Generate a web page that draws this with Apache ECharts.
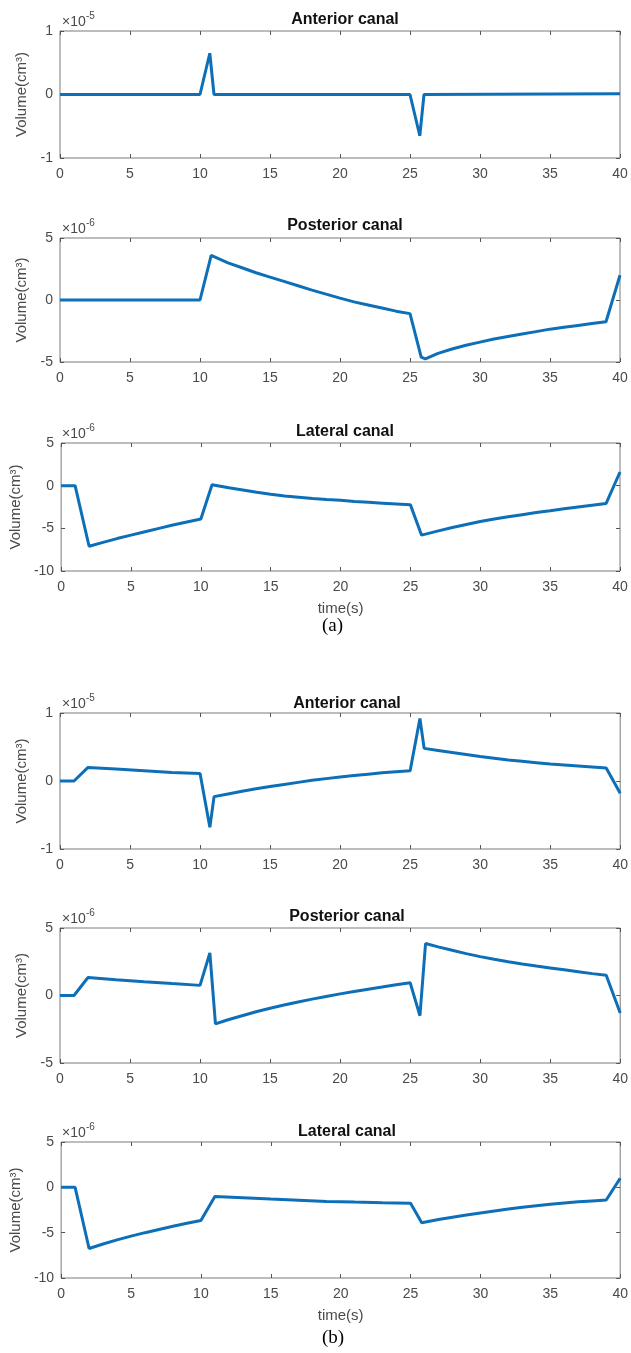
<!DOCTYPE html>
<html><head><meta charset="utf-8">
<script src="https://cdn.jsdelivr.net/npm/echarts@6/dist/echarts.min.js"></script>
<style>html,body{margin:0;padding:0;background:#fff}#c{width:631px;height:1353px}</style>
</head><body><div id="c"></div>
<script>
// ---- data (y values in units of the axis multiplier shown above each panel) ----
const titles = ['Anterior canal','Posterior canal','Lateral canal','Anterior canal','Posterior canal','Lateral canal'];
const exponents = ['-5','-6','-6','-5','-6','-6'];
const yMin = [-1,-5,-10,-1,-5,-10];
const yMax = [1,5,5,1,5,5];
const yStep = [1,5,5,1,5,5];
const xMin = 0, xMax = 40, xStep = 5;
const captions = ['(a)','(b)'];

const anteriorA = [[0,0],[10,0],[10.7,0.65],[11,0],[25,0],[25.7,-0.65],[26,0],[40,0.01]];
const posteriorA = [[0,0],[10,0],[10.8,3.6],[12,3.0],[13,2.6],[14,2.2],[15,1.85],[16,1.5],[17,1.15],[18,0.8],[19,0.47],[20,0.15],[21,-0.15],[22,-0.4],[23,-0.65],[24,-0.9],[25,-1.1],[25.8,-4.6],[26.1,-4.75],[27,-4.3],[28,-3.95],[29,-3.65],[30,-3.4],[31,-3.15],[32,-2.95],[33,-2.75],[34,-2.55],[35,-2.35],[36,-2.2],[37,-2.05],[38,-1.9],[39,-1.75],[40,2.0]];
const lateralA = [[0,0],[1,0],[2,-7.1],[3,-6.65],[4,-6.2],[5,-5.8],[6,-5.4],[7,-5.0],[8,-4.6],[9,-4.25],[10,-3.9],[10.8,0.1],[12,-0.25],[13,-0.5],[14,-0.78],[15,-1.0],[16,-1.2],[17,-1.35],[18,-1.5],[19,-1.62],[20,-1.72],[21,-1.85],[22,-1.95],[23,-2.05],[24,-2.15],[25,-2.25],[25.8,-5.8],[27,-5.3],[28,-4.9],[29,-4.55],[30,-4.2],[31,-3.9],[32,-3.65],[33,-3.4],[34,-3.15],[35,-2.95],[36,-2.7],[37,-2.5],[38,-2.3],[39,-2.1],[40,1.6]];
const anteriorB = [[0,0],[1,0],[2,0.2],[4,0.175],[6,0.15],[8,0.125],[10,0.11],[10.7,-0.68],[11,-0.23],[12,-0.19],[13,-0.15],[14,-0.115],[15,-0.08],[16,-0.05],[17,-0.02],[18,0.01],[19,0.035],[20,0.06],[21,0.08],[22,0.1],[23,0.12],[24,0.135],[25,0.15],[25.7,0.92],[26,0.48],[27,0.45],[28,0.42],[29,0.39],[30,0.36],[31,0.335],[32,0.31],[33,0.29],[34,0.27],[35,0.25],[36,0.235],[37,0.22],[38,0.205],[39,0.19],[40,-0.18]];
const posteriorB = [[0,0],[1,0],[2,1.33],[4,1.17],[6,1.02],[8,0.88],[10,0.75],[10.7,3.15],[11.1,-2.1],[12,-1.8],[13,-1.5],[14,-1.2],[15,-0.95],[16,-0.7],[17,-0.48],[18,-0.27],[19,-0.07],[20,0.12],[21,0.3],[22,0.47],[23,0.63],[24,0.8],[25,0.95],[25.7,-1.5],[26.1,3.85],[27,3.6],[28,3.35],[29,3.1],[30,2.88],[31,2.68],[32,2.5],[33,2.33],[34,2.18],[35,2.04],[36,1.9],[37,1.76],[38,1.62],[39,1.5],[40,-1.3]];
const lateralB = [[0,0],[1,0],[2,-6.75],[3,-6.25],[4,-5.8],[5,-5.38],[6,-5.0],[7,-4.65],[8,-4.3],[9,-3.97],[10,-3.65],[11,-1.0],[13,-1.15],[15,-1.3],[17,-1.42],[19,-1.55],[21,-1.63],[23,-1.7],[25,-1.75],[25.8,-3.9],[27,-3.55],[28,-3.3],[29,-3.05],[30,-2.82],[31,-2.6],[32,-2.4],[33,-2.2],[34,-2.02],[35,-1.87],[36,-1.73],[37,-1.6],[38,-1.5],[39,-1.4],[40,1.0]];
const seriesData = [anteriorA, posteriorA, lateralA, anteriorB, posteriorB, lateralB];

// ---- layout ----
const boxes = [
  {top:31, bottom:158, right:620, titleY:7, nameGap:28},
  {top:238, bottom:362, right:620, titleY:213, nameGap:30},
  {top:443, bottom:571, right:620, titleY:419, nameGap:31},
  {top:713, bottom:849, right:624, titleY:691, nameGap:28},
  {top:928, bottom:1063, right:624, titleY:904, nameGap:30},
  {top:1142, bottom:1278, right:624, titleY:1119, nameGap:31}
];
const LEFT = 60;
const captionY = [617, 1329];
const lineColor = '#0d6fb8';
const txt = '#4a4a4a';
const axisCol = '#7a7a7a';
const font = 'Liberation Sans, Arial, sans-serif';

const grid = [], xAxis = [], yAxis = [], series = [], title = [], graphic = [];
boxes.forEach((b, i) => {
  grid.push({left: LEFT, top: b.top, width: b.right - LEFT, height: b.bottom - b.top,
    show: true, borderColor: axisCol, borderWidth: 1, backgroundColor: '#fff'});
  const isLast = (i === 2 || i === 5);
  const tick = {show: true, inside: true, length: 4, lineStyle: {color: '#555', width: 1}};
  const line = {show: false, onZero: false};
  xAxis.push({gridIndex: i, type: 'value', min: xMin, max: xMax, interval: xStep, position: 'bottom',
    axisLine: line, axisTick: tick, splitLine: {show: false},
    axisLabel: {color: txt, fontSize: 14, margin: 9, fontFamily: font},
    name: isLast ? 'time(s)' : '', nameLocation: 'middle', nameGap: 30,
    nameTextStyle: {color: txt, fontSize: 15, fontFamily: font}});
  xAxis.push({gridIndex: i, type: 'value', min: xMin, max: xMax, interval: xStep, position: 'top',
    axisLine: line, axisTick: tick, splitLine: {show: false}, axisLabel: {show: false}});
  yAxis.push({gridIndex: i, type: 'value', min: yMin[i], max: yMax[i], interval: yStep[i], position: 'left',
    axisLine: line, axisTick: tick, splitLine: {show: false},
    axisLabel: {color: txt, fontSize: 14, margin: 7, fontFamily: font},
    name: 'Volume(cm³)', nameLocation: 'middle', nameGap: b.nameGap, nameRotate: 90,
    nameTextStyle: {color: txt, fontSize: 15, fontFamily: font}});
  yAxis.push({gridIndex: i, type: 'value', min: yMin[i], max: yMax[i], interval: yStep[i], position: 'right',
    axisLine: line, axisTick: tick, splitLine: {show: false}, axisLabel: {show: false}});
  series.push({type: 'line', xAxisIndex: 2 * i, yAxisIndex: 2 * i, data: seriesData[i],
    showSymbol: false, symbol: 'none', smooth: false, animation: false,
    lineStyle: {color: lineColor, width: 3}});
  title.push({text: titles[i], left: (LEFT + b.right) / 2, top: b.titleY, textAlign: 'center',
    textStyle: {color: '#111', fontSize: 16, fontWeight: 'bold', fontFamily: font}});
  graphic.push({type: 'text', left: 62, top: b.top - 16,
    style: {text: '×10', fill: txt, font: '14px ' + font}});
  graphic.push({type: 'text', left: 86, top: b.top - 20,
    style: {text: exponents[i], fill: txt, font: '10px ' + font}});
});
captions.forEach((c, k) => {
  graphic.push({type: 'text', left: 322, top: captionY[k],
    style: {text: c, fill: '#000', font: '19px Liberation Serif, Times New Roman, serif'}});
});

const chart = echarts.init(document.getElementById('c'), null, {renderer: 'canvas'});
chart.setOption({animation: false, backgroundColor: '#fff', grid, xAxis, yAxis, series, title, graphic});
</script></body></html>
